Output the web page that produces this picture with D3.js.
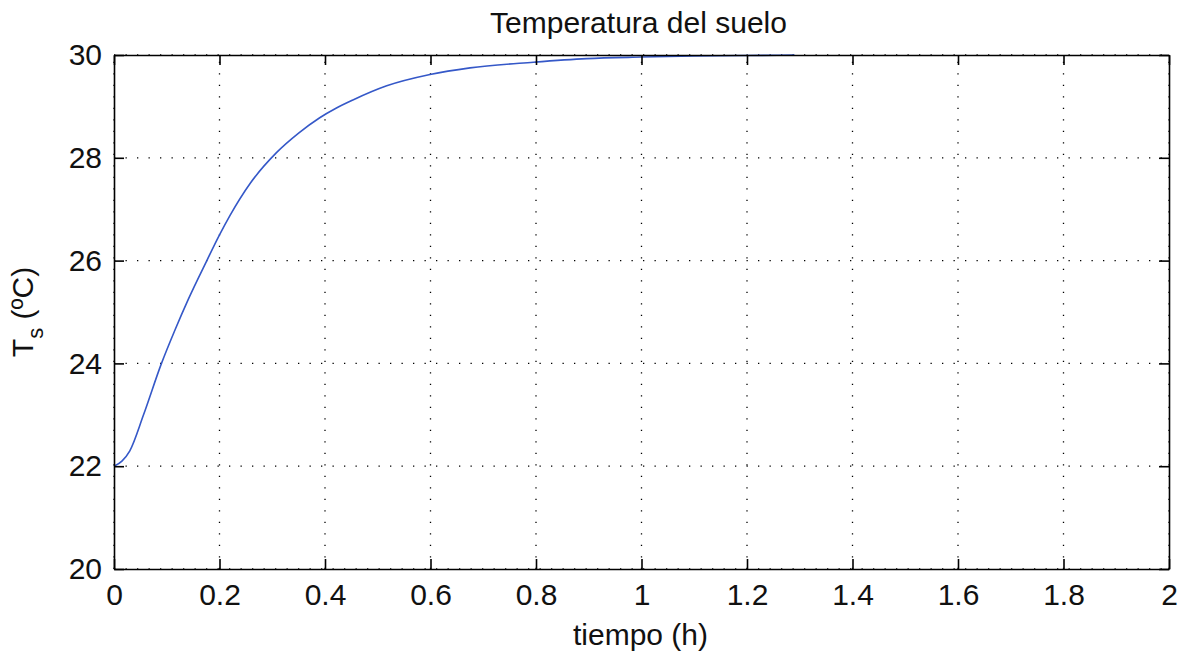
<!DOCTYPE html>
<html>
<head>
<meta charset="utf-8">
<script src="https://cdn.jsdelivr.net/npm/d3@7"></script>
<style>
  body { margin: 0; background: #fff; }
  text { font-family: 'Liberation Sans', Arial, sans-serif; fill: #111; }
</style>
</head>
<body>
<div id="chart"></div>
<script>
// readings from the reference curve
var tiempo = [0, 0.015, 0.03, 0.056, 0.09, 0.116, 0.141, 0.176, 0.2, 0.22, 0.258, 0.308, 0.35, 0.39,
    0.42, 0.454, 0.517, 0.599, 0.675, 0.795, 0.896, 1.0, 1.1, 1.2, 1.29]
var tempSuelo = [22, 22.1, 22.3, 23.0, 24.0, 24.66, 25.25, 26.0, 26.5, 26.88, 27.5, 28.1, 28.48, 28.78,
    28.96, 29.13, 29.4, 29.62, 29.75, 29.86, 29.93, 29.96, 29.98, 29.99, 30.0]

var xTicks = [0, 0.2, 0.4, 0.6, 0.8, 1, 1.2, 1.4, 1.6, 1.8, 2]
var yTicks = [20, 22, 24, 26, 28, 30]

var width = 1186
var height = 656
var margin = { top: 55, right: 17, bottom: 87, left: 114 }
var w = width - margin.left - margin.right
var h = height - margin.top - margin.bottom

var x = d3.scaleLinear().domain([0, 2]).range([0, w])
var y = d3.scaleLinear().domain([20, 30]).range([h, 0])

var svg = d3.select('#chart').append('svg')
    .attr('width', width)
    .attr('height', height)
    .append('g')
    .attr('transform', 'translate(' + margin.left + ',' + margin.top + ')')

// dotted grid
svg.append('g').selectAll('line')
    .data(xTicks)
    .enter().append('line')
    .attr('x1', function(d) { return x(d) })
    .attr('x2', function(d) { return x(d) })
    .attr('y1', h)
    .attr('y2', 0)
    .attr('stroke', '#000')
    .attr('stroke-width', 1.3)
    .attr('stroke-dasharray', '1.3,10.2')

svg.append('g').selectAll('line')
    .data(yTicks)
    .enter().append('line')
    .attr('x1', 0)
    .attr('x2', w)
    .attr('y1', function(d) { return y(d) })
    .attr('y2', function(d) { return y(d) })
    .attr('stroke', '#000')
    .attr('stroke-width', 1.3)
    .attr('stroke-dasharray', '1.3,10.2')

// curve
var line = d3.line()
    .x(function(d) { return x(d[0]) })
    .y(function(d) { return y(d[1]) })
    .curve(d3.curveMonotoneX)

svg.append('path')
    .datum(d3.zip(tiempo, tempSuelo))
    .attr('d', line)
    .attr('fill', 'none')
    .attr('stroke', '#3558c8')
    .attr('stroke-width', 1.6)

// axes, ticks pointing inward
var fmt = function(d) { return d3.format('')(+d.toFixed(1)) }

svg.append('g')
    .attr('transform', 'translate(0,' + h + ')')
    .call(d3.axisBottom(x).tickValues(xTicks).tickFormat(fmt).tickSize(-10).tickSizeOuter(0).tickPadding(15))
svg.append('g')
    .call(d3.axisTop(x).tickValues(xTicks).tickFormat('').tickSize(-10).tickSizeOuter(0))
svg.append('g')
    .call(d3.axisLeft(y).tickValues(yTicks).tickSize(-10).tickSizeOuter(0).tickPadding(12))
svg.append('g')
    .attr('transform', 'translate(' + w + ',0)')
    .call(d3.axisRight(y).tickValues(yTicks).tickFormat('').tickSize(-10).tickSizeOuter(0))

svg.selectAll('.domain').attr('stroke', '#000').attr('stroke-width', 1.6)
svg.selectAll('.tick line').attr('stroke', '#000').attr('stroke-width', 1.6)
svg.selectAll('.tick text').style('font-size', '30px').attr('fill', '#111')

// labels
svg.append('text')
    .attr('x', w / 2 - 3)
    .attr('y', -22)
    .attr('text-anchor', 'middle')
    .style('font-size', '30px')
    .text('Temperatura del suelo')

svg.append('text')
    .attr('x', w / 2 - 1)
    .attr('y', h + 76)
    .attr('text-anchor', 'middle')
    .style('font-size', '30px')
    .text('tiempo (h)')

var yl = svg.append('text')
    .attr('transform', 'translate(' + (-81) + ',' + (h / 2) + ') rotate(-90)')
    .attr('text-anchor', 'middle')
    .style('font-size', '30px')
yl.append('tspan').text('T')
yl.append('tspan').attr('dy', 10).style('font-size', '22px').text('s')
yl.append('tspan').attr('dy', -10).text(' (ºC)')
</script>
</body>
</html>
